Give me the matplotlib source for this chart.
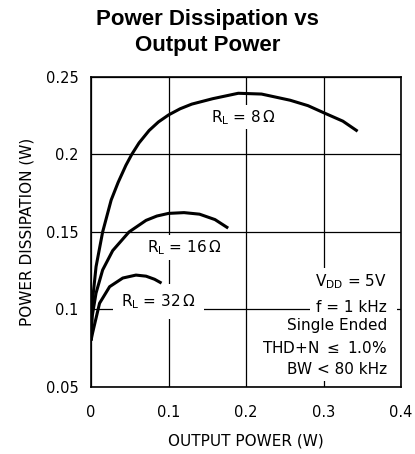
import matplotlib
matplotlib.use('Agg')
import matplotlib.pyplot as plt
from matplotlib.patches import Rectangle

plt.rcParams['font.family'] = ['DejaVu Sans']

# ---- Data
x_8ohm = [0, 0.002, 0.0065, 0.015, 0.026, 0.035, 0.045, 0.0525, 0.062,
          0.075, 0.087, 0.1, 0.115, 0.13, 0.157, 0.19, 0.22, 0.257, 0.28,
          0.3, 0.325, 0.344]
y_8ohm = [0.080, 0.106, 0.1276, 0.150, 0.1706, 0.182, 0.193, 0.200, 0.2075,
          0.2155, 0.221, 0.2255, 0.2295, 0.2325, 0.236, 0.2395, 0.239, 0.235,
          0.2315, 0.227, 0.2215, 0.215]

x_16ohm = [0, 0.0013, 0.0065, 0.015, 0.028, 0.049, 0.071, 0.085, 0.1,
           0.12, 0.14, 0.16, 0.177]
y_16ohm = [0.080, 0.095, 0.1106, 0.1255, 0.138, 0.150, 0.1575, 0.1603,
           0.162, 0.1625, 0.1615, 0.158, 0.1525]

x_32ohm = [0, 0.002, 0.011, 0.024, 0.041, 0.058, 0.071, 0.082, 0.091]
y_32ohm = [0.080, 0.0848, 0.104, 0.1147, 0.1203, 0.1222, 0.1215, 0.1195,
           0.117]

x_ticks = [0, 0.1, 0.2, 0.3, 0.4]
x_ticklabels = ['0', '0.1', '0.2', '0.3', '0.4']
y_ticks = [0.05, 0.1, 0.15, 0.2, 0.25]
y_ticklabels = ['0.05', '0.1', '0.15', '0.2', '0.25']

conditions = [r'V$_{\mathrm{DD}}$ = 5V', 'f = 1 kHz', 'Single Ended',
              'THD+N $\\leq$ 1.0%', 'BW < 80 kHz']

# ---- Figure
fig = plt.figure(figsize=(4.15, 4.54), dpi=100)
ax = fig.add_axes([0.2193, 0.1476, 0.747, 0.6828])

ax.set_xlim(0, 0.4)
ax.set_ylim(0.05, 0.25)
ax.set_xticks(x_ticks)
ax.set_xticklabels(x_ticklabels)
ax.set_yticks(y_ticks)
ax.set_yticklabels(y_ticklabels)
ax.tick_params(axis='both', length=0, labelsize=10.5)
ax.tick_params(axis='x', pad=13)
ax.tick_params(axis='y', pad=9)
ax.grid(True, color='black', lw=0.9)
ax.set_axisbelow(True)
for sp in ax.spines.values():
    sp.set_linewidth(1.2)

for xs, ys in [(x_8ohm, y_8ohm), (x_16ohm, y_16ohm), (x_32ohm, y_32ohm)]:
    ax.plot(xs, ys, '-', color='black', lw=2.2, zorder=3,
            solid_capstyle='butt', solid_joinstyle='round')

lbl_box = dict(facecolor='white', edgecolor='none', pad=2)
ax.text(0.155, 0.224, r'R$_{\mathrm{L}}$ = 8$\,\Omega$', fontsize=11,
        ha='left', va='center', zorder=2, bbox=lbl_box)
ax.text(0.072, 0.140, r'R$_{\mathrm{L}}$ = 16$\,\Omega$', fontsize=11,
        ha='left', va='center', zorder=2, bbox=lbl_box)
ax.text(0.039, 0.105, r'R$_{\mathrm{L}}$ = 32$\,\Omega$', fontsize=11,
        ha='left', va='center', zorder=2,
        bbox=dict(facecolor='white', edgecolor='none', pad=6))

# White panel behind the test conditions
ax.add_patch(Rectangle((0.2826, 0.0539), 0.1122, 0.0729,
                       facecolor='white', edgecolor='none', zorder=1))
cond_y = [0.1177, 0.1012, 0.0894, 0.0752, 0.0613]
for txt, yy in zip(conditions, cond_y):
    ax.text(0.382, yy, txt, fontsize=11, ha='right', va='center', zorder=2)

ax.set_xlabel('OUTPUT POWER (W)', fontsize=11, labelpad=10)
ax.set_ylabel('POWER DISSIPATION (W)', fontsize=11, labelpad=8)

fig.text(0.5, 0.929, 'Power Dissipation vs\nOutput Power',
         fontsize=16, fontweight='bold', family='Liberation Sans',
         ha='center', va='center', linespacing=1.32)

fig.savefig('out.png', dpi=100)
